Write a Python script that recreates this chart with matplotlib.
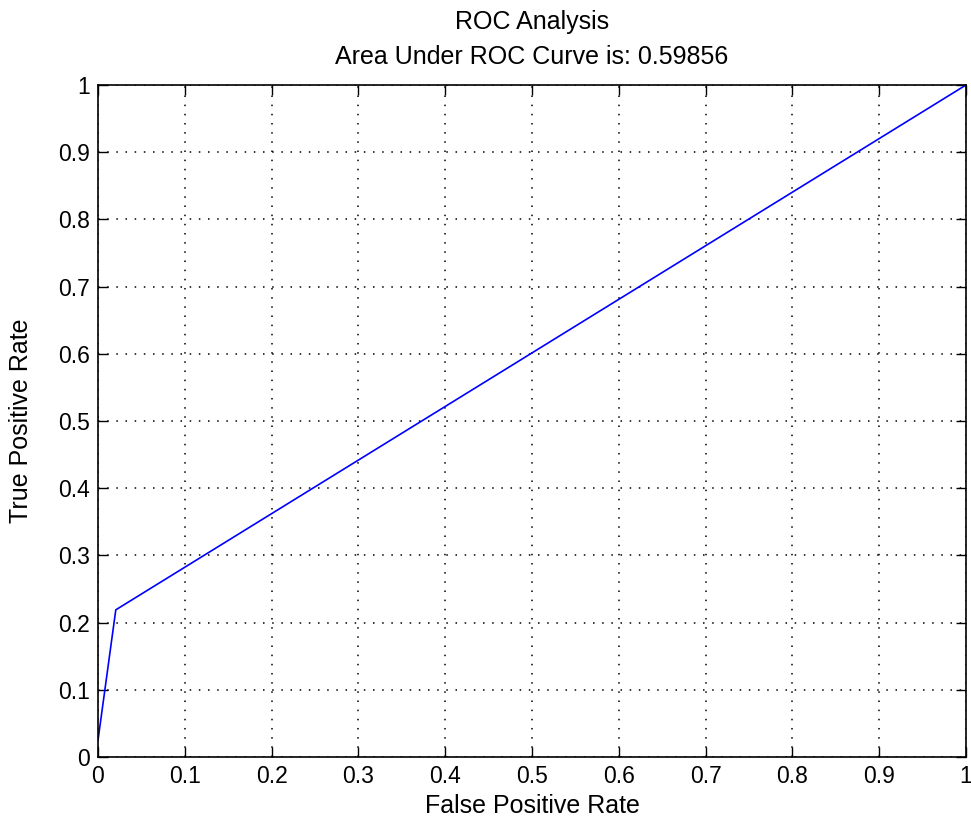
import matplotlib
matplotlib.use("Agg")
import matplotlib.pyplot as plt
import numpy as np

fpr = [0.0, 0.0205, 1.0]
tpr = [0.025, 0.219, 1.0]
ticks = [0, 0.1, 0.2, 0.3, 0.4, 0.5, 0.6, 0.7, 0.8, 0.9, 1]
tick_labels = ["0", "0.1", "0.2", "0.3", "0.4", "0.5", "0.6", "0.7", "0.8", "0.9", "1"]

plt.rcParams['font.family'] = ['Liberation Sans', 'DejaVu Sans']

fig = plt.figure(figsize=(9.71, 8.26), dpi=100)
ax = fig.add_axes([98/971, 1-757/826, 868/971, 672/826])
ax.plot(fpr, tpr, color='#0000ff', lw=1.2)
ax.set_xlim(0, 1)
ax.set_ylim(0, 1)
ax.set_xticks(ticks)
ax.set_xticklabels(tick_labels, fontsize=16.5)
ax.set_yticks(ticks)
ax.set_yticklabels(tick_labels, fontsize=16.5)
ax.tick_params(direction='in', top=True, right=True, length=7, width=1, pad=6)
ax.grid(True, linestyle=(0, (1, 5)), color='black', lw=1.1)
for s in ax.spines.values():
    s.set_linewidth(1.2)
ax.set_xlabel("False Positive Rate", fontsize=18, labelpad=4)
ax.set_ylabel("True Positive Rate", fontsize=18, labelpad=18)
ax.set_title("ROC Analysis\nArea Under ROC Curve is: 0.59856", fontsize=18, linespacing=1.6, pad=15)
fig.savefig("out.png", dpi=100)
